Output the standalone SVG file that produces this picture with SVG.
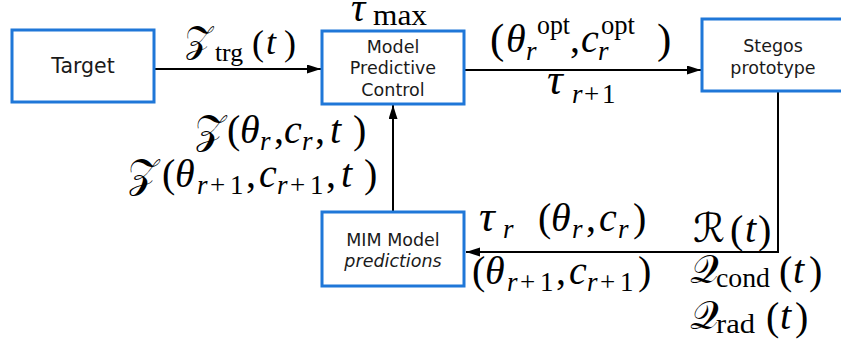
<svg xmlns="http://www.w3.org/2000/svg" width="841" height="348" viewBox="0 0 841 348">
<style>
.box{fill:#fff;stroke:#1f77d8;stroke-width:3}
.lbl{font-family:"DejaVu Sans",sans-serif;font-size:17.5px;text-anchor:middle;fill:#1a1a1a}
.big{font-size:20.5px}
.it{font-style:italic}
.ln{fill:none;stroke:#000;stroke-width:2}
.m{font-family:"Liberation Serif","Times New Roman",serif;font-style:italic;font-size:40px;fill:#000}
.s{font-size:27px}
.tau{font-size:44px}
.rm{font-style:normal}
.cal{font-family:"DejaVu Serif","DejaVu Sans","Noto Sans",serif;font-style:normal}
</style>
<defs>
<marker id="ah" markerUnits="userSpaceOnUse" markerWidth="15" markerHeight="10" refX="14" refY="4.5" orient="auto">
<path d="M0,0 L14,4.5 L0,9 z" fill="#000"/>
</marker>
</defs>
<g id="connectors">
<line class="ln" x1="154" y1="69" x2="321" y2="69" marker-end="url(#ah)"/>
<line class="ln" x1="464" y1="70" x2="701" y2="70" marker-end="url(#ah)"/>
<polyline class="ln" points="778,92 778,252 466,252" marker-end="url(#ah)"/>
<line class="ln" x1="393" y1="212" x2="393" y2="105" marker-end="url(#ah)"/>
</g>
<g id="target">
<rect class="box" x="12" y="30" width="142" height="72"/>
<text class="lbl big" x="83" y="73">Target</text>
</g>
<g id="mpc">
<rect class="box" x="322" y="31" width="142" height="73"/>
<text class="lbl" x="393" y="52.5">Model</text>
<text class="lbl" x="393" y="74">Predictive</text>
<text class="lbl" x="393" y="95.5">Control</text>
</g>
<g id="stegos">
<rect class="box" x="702" y="19" width="145" height="72"/>
<text class="lbl" x="773" y="52">Stegos</text>
<text class="lbl" x="773" y="73.5">prototype</text>
</g>
<g id="mim">
<rect class="box" x="322" y="212" width="142" height="74"/>
<text class="lbl" x="393" y="245.5">MIM Model</text>
<text class="lbl it" x="393" y="266.5">predictions</text>
</g>
<g id="labels">
<text class="m"><tspan style="font-size:40px" x="351" y="21">τ</tspan><tspan class="rm" style="font-size:30px" x="373" y="25" textLength="54" lengthAdjust="spacingAndGlyphs">max</tspan></text>
<text class="m" style="font-size:36px"><tspan class="cal" x="185" y="52">𝒵</tspan><tspan class="rm" style="font-size:26px" x="215" y="61" textLength="28" lengthAdjust="spacingAndGlyphs">trg</tspan><tspan class="rm" x="252" y="55">(</tspan><tspan x="266" y="54">t</tspan><tspan class="rm" x="284" y="55">)</tspan></text>
<text class="m"><tspan class="rm" style="font-size:43px" x="490" y="53">(</tspan><tspan x="506" y="52">θ</tspan><tspan class="rm s" x="537" y="34" textLength="33" lengthAdjust="spacingAndGlyphs">opt</tspan><tspan class="s" x="526" y="60">r</tspan><tspan class="rm" x="570" y="52">,</tspan><tspan x="581" y="52">c</tspan><tspan class="rm s" x="601" y="34" textLength="34" lengthAdjust="spacingAndGlyphs">opt</tspan><tspan class="s" x="598" y="60">r</tspan><tspan class="rm" style="font-size:43px" x="657" y="53">)</tspan></text>
<text class="m"><tspan class="tau" x="547" y="94">τ</tspan><tspan class="s" x="572" y="103">r</tspan><tspan class="rm s" x="584" y="103">+</tspan><tspan class="rm s" x="602" y="103">1</tspan></text>
<text class="m"><tspan class="cal" x="195" y="143">𝒵</tspan><tspan class="rm" x="227" y="143">(</tspan><tspan x="240" y="143">θ</tspan><tspan class="s" x="260" y="150">r</tspan><tspan class="rm" x="274" y="143">,</tspan><tspan x="284" y="143">c</tspan><tspan class="s" x="302" y="150">r</tspan><tspan class="rm" x="315" y="143">,</tspan><tspan x="330" y="143">t</tspan><tspan class="rm" x="353" y="143">)</tspan></text>
<text class="m"><tspan class="cal" x="128" y="187">𝒵</tspan><tspan class="rm" x="162" y="187">(</tspan><tspan x="175" y="187">θ</tspan><tspan class="s" x="197" y="194">r</tspan><tspan class="rm s" x="210" y="194">+</tspan><tspan class="rm s" x="230" y="194">1</tspan><tspan class="rm" x="246" y="187">,</tspan><tspan x="259" y="187">c</tspan><tspan class="s" x="277" y="194">r</tspan><tspan class="rm s" x="290" y="194">+</tspan><tspan class="rm s" x="310" y="194">1</tspan><tspan class="rm" x="326" y="187">,</tspan><tspan x="341" y="187">t</tspan><tspan class="rm" x="364" y="187">)</tspan></text>
<text class="m"><tspan class="tau" x="479" y="231">τ</tspan><tspan class="s" x="503" y="238">r</tspan><tspan class="rm" x="538" y="231">(</tspan><tspan x="551" y="231">θ</tspan><tspan class="s" x="572" y="238">r</tspan><tspan class="rm" x="586" y="231">,</tspan><tspan x="599" y="231">c</tspan><tspan class="s" x="618" y="238">r</tspan><tspan class="rm" x="633" y="231">)</tspan></text>
<text class="m"><tspan class="rm" x="472" y="284">(</tspan><tspan x="485" y="284">θ</tspan><tspan class="s" x="507" y="291">r</tspan><tspan class="rm s" x="520" y="291">+</tspan><tspan class="rm s" x="540" y="291">1</tspan><tspan class="rm" x="556" y="284">,</tspan><tspan x="569" y="284">c</tspan><tspan class="s" x="587" y="291">r</tspan><tspan class="rm s" x="600" y="291">+</tspan><tspan class="rm s" x="620" y="291">1</tspan><tspan class="rm" x="638" y="284">)</tspan></text>
<text class="m"><tspan class="cal" x="693" y="242">ℛ</tspan><tspan class="rm" x="730" y="243">(</tspan><tspan x="745" y="242">t</tspan><tspan class="rm" x="758" y="243">)</tspan></text>
<text class="m"><tspan class="cal" x="690" y="283">𝒬</tspan><tspan class="rm s" x="716" y="287" textLength="54" lengthAdjust="spacingAndGlyphs">cond</tspan><tspan class="rm" x="779" y="284">(</tspan><tspan x="793" y="283">t</tspan><tspan class="rm" x="809" y="284">)</tspan></text>
<text class="m"><tspan class="cal" x="690" y="329">𝒬</tspan><tspan class="rm s" x="716" y="333" textLength="39" lengthAdjust="spacingAndGlyphs">rad</tspan><tspan class="rm" x="766" y="330">(</tspan><tspan x="780" y="329">t</tspan><tspan class="rm" x="795" y="330">)</tspan></text>
</g>
</svg>
